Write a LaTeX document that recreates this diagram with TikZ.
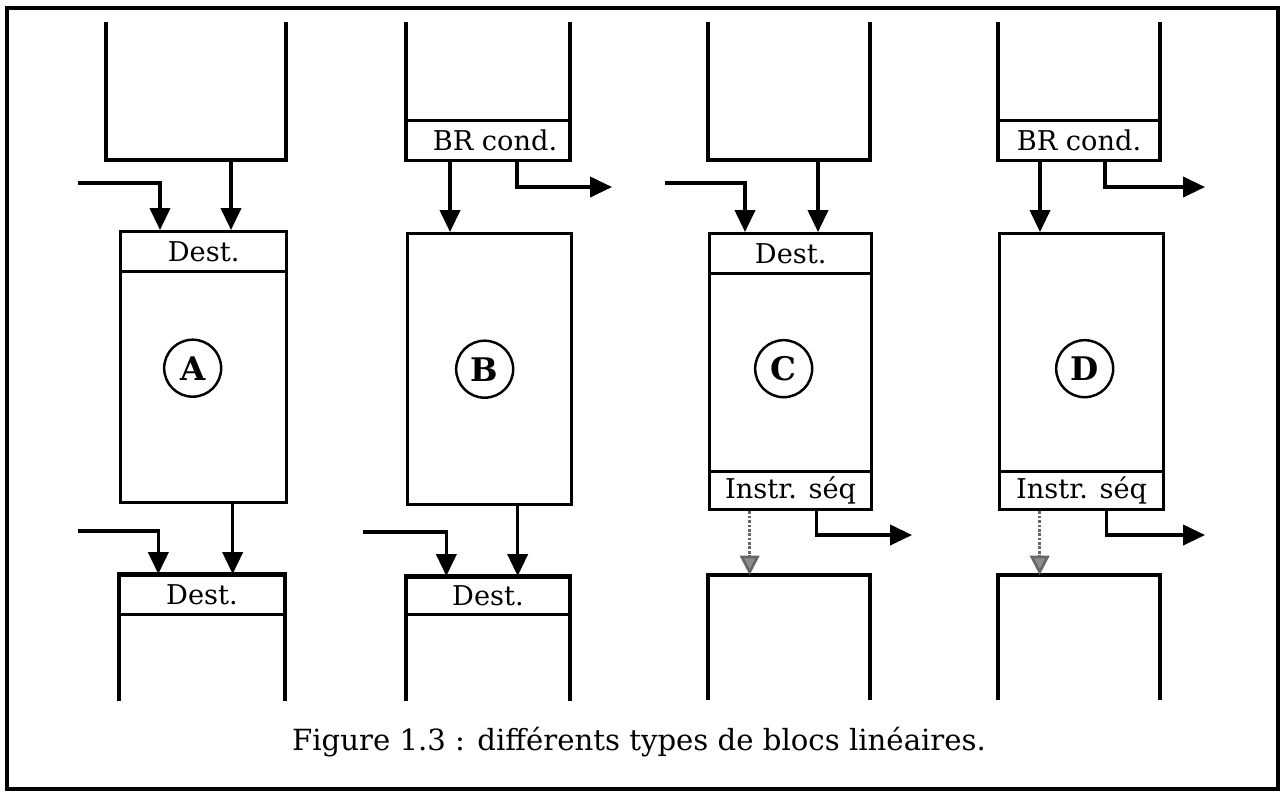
\documentclass[tikz,border=0pt]{standalone}
\usepackage{fontspec}
\setmainfont{DejaVu Serif}
\usetikzlibrary{arrows.meta}
\newlength\upx
\setlength\upx{0.02cm}
\tikzset{
  wall/.style={line width=1.9pt},
  part/.style={draw,line width=1.9pt,inner sep=0pt,font=\fontsize{15.5}{18}\selectfont},
  hole/.style={inner sep=0pt,outer sep=0pt},
  lnk/.style={line width=1.9pt,-{Triangle[length=12.5pt,width=11.5pt]}},
  seqlnk/.style={line width=1.5pt,black!60,densely dotted,-{Triangle[length=11pt,width=11pt,fill=black!45]}},
  tag/.style={draw,circle,line width=1.4pt,minimum size=1.14cm,inner sep=0pt,font=\fontsize{18.5}{20}\selectfont\bfseries},
}
\begin{document}
\begin{tikzpicture}[x=0.02cm,y=-0.02cm]
\useasboundingbox (0,0) rectangle (1284,796);
\draw[line width=2.2pt] (7,8) rectangle (1278,789);

% block A
\node[hole,minimum width=180\upx,minimum height=138\upx,anchor=north west] (At) at (106,22) {};
\draw[wall] (At.north west) |- (At.south east) -- (At.north east);
\node[part,minimum width=166\upx,minimum height=271\upx,anchor=north west] (A) at (119,230) {};
\node[part,minimum width=166\upx,minimum height=40\upx,anchor=north] (Ad) at (A.north) {Dest.};
\node[tag] (Atag) at ([xshift=-11\upx,yshift=-1\upx]A.center) {A};
\node[hole,minimum width=166\upx,minimum height=127\upx,anchor=north west] (Ab) at (119,574) {};
\draw[wall] (Ab.south west) |- (Ab.north east) -- (Ab.south east);
\node[part,minimum width=166\upx,minimum height=39\upx,anchor=north] (Abd) at (Ab.north) {Dest.};
\coordinate (Ain) at (78,183);
\coordinate (Ain2) at (78,531);
\draw[lnk] ([xshift=35\upx]At.south) -- ([xshift=35\upx]At.south |- Ad.north);
\draw[lnk] (Ain) -| ([xshift=41\upx]Ad.north west);
\draw[lnk] ([xshift=29\upx]A.south) -- ([xshift=29\upx]A.south |- Abd.north);
\draw[lnk] (Ain2) -| ([xshift=41\upx]Abd.north west);

% block B
\node[hole,minimum width=164\upx,minimum height=140\upx,anchor=north west] (Bt) at (406,22) {};
\draw[wall] (Bt.north west) -- (Bt.south west) (Bt.north east) -- (Bt.south east);
\node[part,minimum width=164\upx,minimum height=40\upx,anchor=south] (Btc) at (Bt.south) {\hspace*{14\upx}BR cond.};
\node[part,minimum width=164\upx,minimum height=271\upx,anchor=north west] (B) at (406,232) {};
\node[tag] (Btag) at ([xshift=-5\upx]B.center) {B};
\node[hole,minimum width=164\upx,minimum height=125\upx,anchor=north west] (Bb) at (406,576) {};
\draw[wall] (Bb.south west) |- (Bb.north east) -- (Bb.south east);
\node[part,minimum width=164\upx,minimum height=37\upx,anchor=north] (Bbd) at (Bb.north) {Dest.};
\coordinate (Bout) at (612,187);
\coordinate (Bin) at (363,532);
\draw[lnk] ([xshift=-38\upx]Btc.south) -- ([xshift=-38\upx]Btc.south |- B.north);
\draw[lnk] ([xshift=29\upx]Btc.south) |- (Bout);
\draw[lnk] ([xshift=28\upx]B.south) -- ([xshift=28\upx]B.south |- Bbd.north);
\draw[lnk] (Bin) -| ([xshift=42\upx]Bbd.north west);

% block C
\node[hole,minimum width=162\upx,minimum height=138\upx,anchor=north west] (Ct) at (708,22) {};
\draw[wall] (Ct.north west) |- (Ct.south east) -- (Ct.north east);
\node[part,minimum width=162\upx,minimum height=276\upx,anchor=north west] (C) at (708,232) {};
\node[part,minimum width=162\upx,minimum height=40\upx,anchor=north] (Cd) at (C.north) {Dest.};
\node[part,minimum width=162\upx,minimum height=38\upx,anchor=south] (Cs) at (C.south) {Instr. séq};
\node[tag] (Ctag) at ([xshift=-7\upx,yshift=3\upx]C.center) {C};
\node[hole,minimum width=162\upx,minimum height=125\upx,anchor=north west] (Cb) at (708,575) {};
\draw[wall] (Cb.south west) |- (Cb.north east) -- (Cb.south east);
\coordinate (Cin) at (665,183);
\coordinate (Cout) at (912,535);
\draw[lnk] (Cin) -| ([xshift=37\upx]Cd.north west);
\draw[lnk] ([xshift=29\upx]Ct.south) -- ([xshift=29\upx]Ct.south |- Cd.north);
\draw[seqlnk] ([xshift=-41\upx]Cs.south) -- ([xshift=-41\upx]Cs.south |- Cb.north);
\draw[lnk] ([xshift=26\upx]Cs.south) |- (Cout);

% block D
\node[hole,minimum width=162\upx,minimum height=140\upx,anchor=north west] (Dt) at (998,22) {};
\draw[wall] (Dt.north west) -- (Dt.south west) (Dt.north east) -- (Dt.south east);
\node[part,minimum width=162\upx,minimum height=40\upx,anchor=south] (Dtc) at (Dt.south) {BR cond.};
\node[part,minimum width=164\upx,minimum height=276\upx,anchor=north west] (D) at (998,232) {};
\node[part,minimum width=164\upx,minimum height=38\upx,anchor=south] (Ds) at (D.south) {Instr. séq};
\node[tag] (Dtag) at ([xshift=3\upx,yshift=3\upx]D.center) {D};
\node[hole,minimum width=162\upx,minimum height=125\upx,anchor=north west] (Db) at (998,575) {};
\draw[wall] (Db.south west) |- (Db.north east) -- (Db.south east);
\coordinate (Dout) at (1205,187);
\coordinate (Dout2) at (1205,535);
\draw[lnk] ([xshift=-39\upx]Dtc.south) -- ([xshift=-39\upx]Dtc.south |- D.north);
\draw[lnk] ([xshift=26\upx]Dtc.south) |- (Dout);
\draw[seqlnk] ([xshift=-42\upx]Ds.south) -- ([xshift=-42\upx]Ds.south |- Db.north);
\draw[lnk] ([xshift=25\upx]Ds.south) |- (Dout2);

\node[font=\fontsize{16.6}{20}\selectfont] (cap) at (639,742) {Figure 1.3 : différents types de blocs linéaires.};
\end{tikzpicture}
\end{document}
